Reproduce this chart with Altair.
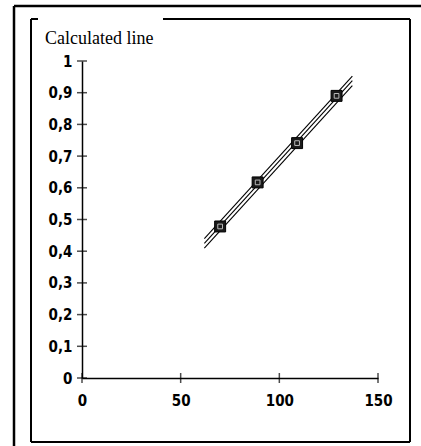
import altair as alt
import pandas as pd

# Data
pt_x = [70, 89, 109, 129]
pt_y = [0.478, 0.617, 0.741, 0.890]

line_x = [62, 137]
center_y = [0.425, 0.938]
upper_y = [0.440, 0.952]
lower_y = [0.410, 0.922]

x_ticks = [0, 50, 100, 150]
y_ticks = [0, 0.1, 0.2, 0.3, 0.4, 0.5, 0.6, 0.7, 0.8, 0.9, 1]

title_text = "Calculated line"

pts = pd.DataFrame({"x": pt_x, "y": pt_y})
lines = pd.DataFrame(
    [{"x": xv, "y": yv, "s": "center"} for xv, yv in zip(line_x, center_y)]
    + [{"x": xv, "y": yv, "s": "upper"} for xv, yv in zip(line_x, upper_y)]
    + [{"x": xv, "y": yv, "s": "lower"} for xv, yv in zip(line_x, lower_y)]
)
xt = pd.DataFrame({"x": x_ticks})
yt = pd.DataFrame({"y": y_ticks})

LBL_FONT = "Liberation Sans Narrow, DejaVu Sans Condensed, sans-serif"

xs = alt.Scale(domain=[0, 150], nice=False, zero=False)
ys = alt.Scale(domain=[0, 1], nice=False, zero=False)

x_axis = alt.Axis(values=x_ticks, grid=False, domainColor="black", domainWidth=1.5,
                  ticks=False, labelPadding=15, labelFlush=False,
                  labelFont=LBL_FONT, labelFontSize=15, labelFontWeight="bold",
                  labelColor="black", title=None, format="d")
y_axis = alt.Axis(values=y_ticks, grid=False, domainColor="black", domainWidth=1.5,
                  ticks=False, labelPadding=10, labelFlush=False,
                  labelFont=LBL_FONT, labelFontSize=15, labelFontWeight="bold",
                  labelColor="black", title=None, format=".1~f", labelOverlap=False,
                  labelExpr="replace(datum.label, '.', ',')")

line_layer = alt.Chart(lines).mark_line(color="black", strokeWidth=1.1, clip=False).encode(
    x=alt.X("x:Q", scale=xs, axis=x_axis),
    y=alt.Y("y:Q", scale=ys, axis=y_axis),
    detail="s:N",
)

pt_layer = alt.Chart(pts).mark_square(size=120, color="#1a1a1a", stroke="black",
                                      strokeWidth=1, opacity=1).encode(
    x=alt.X("x:Q", scale=xs, axis=x_axis),
    y=alt.Y("y:Q", scale=ys, axis=y_axis),
)
pt_inner = alt.Chart(pts).mark_square(size=22, filled=False, stroke="white",
                                      strokeWidth=1).encode(
    x=alt.X("x:Q", scale=xs, axis=x_axis),
    y=alt.Y("y:Q", scale=ys, axis=y_axis),
)

# crossing tick marks at the axis tick values
x_tick_layer = alt.Chart(xt).mark_tick(color="black", thickness=1.5, size=10,
                                       orient="vertical", clip=False).encode(
    x=alt.X("x:Q", scale=xs, axis=x_axis),
    y=alt.value(317),
)
y_tick_layer = alt.Chart(yt).mark_tick(color="black", thickness=1.5, size=10,
                                       orient="horizontal", clip=False).encode(
    y=alt.Y("y:Q", scale=ys, axis=y_axis),
    x=alt.value(0),
)

# Frame decorations (pixel positions relative to plot area origin)
def rule(x1, y1, x2, y2, w=2):
    return alt.Chart(pd.DataFrame({"a": [0]})).mark_rule(color="black", strokeWidth=w, clip=False).encode(
        x=alt.value(x1), x2=alt.value(x2), y=alt.value(y1), y2=alt.value(y2)
    )

frame = [
    rule(-68, -55, 345, -55, 2.5),   # outer top
    rule(-68, -55, -68, 390, 2.5),   # outer left
    rule(-51, -42, -51, 381, 2),     # inner left
    rule(-51, 381, 328, 381, 2),     # inner bottom
    rule(328, -42, 328, 381, 2),     # inner right
    rule(-51, -42, -44, -42, 2),     # inner top stub
    rule(81, -42, 328, -42, 2),      # inner top
]

title = alt.Chart(pd.DataFrame({"t": [title_text]})).mark_text(
    align="left", baseline="alphabetic", font="Liberation Serif, DejaVu Serif, serif",
    fontSize=18, color="black", clip=False
).encode(x=alt.value(-37), y=alt.value(-17), text="t:N")

chart = alt.layer(*frame, line_layer, pt_layer, pt_inner, x_tick_layer, y_tick_layer, title).properties(
    width=296, height=317,
    padding={"left": 82, "top": 61, "right": 43, "bottom": 68},
    autosize=alt.AutoSizeParams(type="none"),
    background="white",
).configure_view(stroke=None)

chart.save("out.html", embed_options={"renderer": "svg", "actions": False})
